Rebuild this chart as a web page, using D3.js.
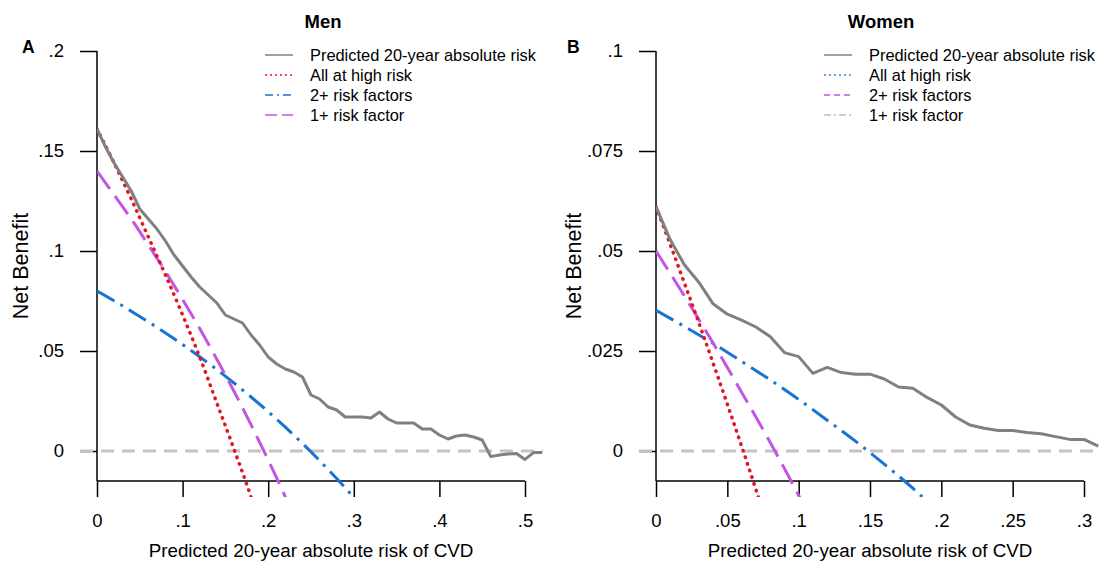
<!DOCTYPE html>
<html><head><meta charset="utf-8">
<script src="https://cdn.jsdelivr.net/npm/d3@7"></script>
<style>body{margin:0;background:#fff;} svg{display:block;font-family:Arial,"Liberation Sans",sans-serif;}</style>
</head><body><svg width="1100" height="562"></svg>
<script>
// ---------- DATA ----------
const menPredicted = [[0,0.161],[0.01,0.152],[0.02,0.144],[0.03,0.137],[0.04,0.130],[0.05,0.121],[0.06,0.116],[0.07,0.111],[0.08,0.105],[0.09,0.098],[0.10,0.0925],[0.11,0.087],[0.12,0.082],[0.13,0.078],[0.14,0.074],[0.15,0.068],[0.16,0.066],[0.17,0.064],[0.18,0.058],[0.19,0.053],[0.20,0.047],[0.21,0.0435],[0.22,0.041],[0.23,0.0395],[0.24,0.037],[0.25,0.028],[0.26,0.026],[0.27,0.022],[0.28,0.0205],[0.29,0.017],[0.30,0.017],[0.31,0.017],[0.32,0.0165],[0.33,0.0195],[0.34,0.016],[0.35,0.014],[0.36,0.014],[0.37,0.014],[0.38,0.011],[0.39,0.011],[0.40,0.008],[0.41,0.006],[0.42,0.0075],[0.43,0.008],[0.44,0.007],[0.45,0.0055],[0.46,-0.0028],[0.47,-0.002],[0.48,-0.0015],[0.49,-0.0012],[0.50,-0.0042],[0.51,-0.0008],[0.52,-0.0008]];
const menAllHigh = [[0,0.161],[0.02,0.144],[0.04,0.126],[0.06,0.107],[0.08,0.088],[0.10,0.068],[0.12,0.047],[0.14,0.024],[0.16,0.001],[0.18,-0.023],[0.19,-0.036]];
const menTwoPlus = [[0,0.080],[0.02,0.0751],[0.04,0.0699],[0.06,0.0646],[0.08,0.0590],[0.10,0.0532],[0.12,0.0471],[0.14,0.0407],[0.16,0.0340],[0.18,0.0270],[0.20,0.0197],[0.22,0.0119],[0.24,0.0038],[0.26,-0.0048],[0.28,-0.0138],[0.30,-0.0234],[0.31,-0.029]];
const menOnePlus = [[0,0.140],[0.02,0.128],[0.04,0.116],[0.06,0.103],[0.08,0.0897],[0.10,0.0758],[0.12,0.0612],[0.14,0.0459],[0.16,0.0299],[0.18,0.0131],[0.20,-0.0045],[0.22,-0.023],[0.23,-0.033]];

const womenPredicted = [[0,0.0611],[0.01,0.0528],[0.02,0.0465],[0.03,0.0422],[0.04,0.0368],[0.05,0.0342],[0.06,0.0327],[0.07,0.0310],[0.08,0.0286],[0.09,0.0246],[0.10,0.0236],[0.11,0.0194],[0.12,0.0209],[0.13,0.0196],[0.14,0.0192],[0.15,0.0192],[0.16,0.0180],[0.17,0.0160],[0.18,0.0157],[0.19,0.0134],[0.20,0.0115],[0.21,0.0085],[0.22,0.0065],[0.23,0.0057],[0.24,0.0051],[0.25,0.0051],[0.26,0.0046],[0.27,0.0043],[0.28,0.0036],[0.29,0.0029],[0.30,0.0029],[0.31,0.0012]];
const womenAllHigh = [[0,0.0611],[0.01,0.0516],[0.02,0.0419],[0.03,0.0321],[0.04,0.0220],[0.05,0.0117],[0.06,0.0012],[0.07,-0.0096],[0.08,-0.021]];
const womenOnePlus = [[0,0.050],[0.02,0.0387],[0.04,0.0270],[0.06,0.0147],[0.08,0.0022],[0.10,-0.0111],[0.11,-0.018]];
const womenTwoPlus = [[0,0.0352],[0.02,0.0311],[0.04,0.0269],[0.06,0.0224],[0.08,0.0178],[0.10,0.0129],[0.12,0.0077],[0.14,0.0024],[0.16,-0.0033],[0.18,-0.0093],[0.20,-0.016]];

const menXTicks = [0,0.1,0.2,0.3,0.4,0.5];
const menXLabels = ["0",".1",".2",".3",".4",".5"];
const menYTicks = [0,0.05,0.1,0.15,0.2];
const menYLabels = ["0",".05",".1",".15",".2"];
const womenXTicks = [0,0.05,0.1,0.15,0.2,0.25,0.3];
const womenXLabels = ["0",".05",".1",".15",".2",".25",".3"];
const womenYTicks = [0,0.025,0.05,0.075,0.1];
const womenYLabels = ["0",".025",".05",".075",".1"];

const legendLabels = ["Predicted 20-year absolute risk","All at high risk","2+ risk factors","1+ risk factor"];

// ---------- DRAWING ----------
const svg = d3.select("svg");
const GRAY = "#808080", RED = "#e3161f", BLUE = "#1874d2", PURPLE = "#c255e2";
const FONT = "Arial, 'Liberation Sans', sans-serif";

function panel(c) {
  const x = d3.scaleLinear().domain([0, c.xMax]).range([c.x0, c.x1]);
  const y = d3.scaleLinear().domain([0, c.yMax]).range([451, 51]);
  const g = svg.append("g");
  const axisY = 481;

  // title & letter
  g.append("text").attr("x", (c.x0 + c.plotRight) / 2 + 3).attr("y", 28).attr("text-anchor", "middle")
    .attr("font-weight", "bold").attr("font-size", 18.5).text(c.title);
  g.append("text").attr("x", c.letterX).attr("y", 53).attr("font-weight", "bold").attr("font-size", 17.5).text(c.letter);

  // y axis
  const ya = g.append("g").attr("transform", `translate(${c.x0},0)`)
    .call(d3.axisLeft(y).tickValues(c.yTicks).tickFormat((d, i) => c.yLabels[i]).tickSize(17).tickPadding(16).tickSizeOuter(0));
  ya.select(".domain").remove();
  ya.selectAll("line").attr("stroke", "#000").attr("stroke-width", 1.5);
  ya.selectAll("text").attr("font-size", 18.5).attr("font-family", FONT).attr("fill", "#000");
  g.append("line").attr("x1", c.x0).attr("x2", c.x0).attr("y1", y(c.yMax)).attr("y2", axisY).attr("stroke", "#000").attr("stroke-width", 1.5);

  // x axis
  const xa = g.append("g").attr("transform", `translate(0,${axisY})`)
    .call(d3.axisBottom(x).tickValues(c.xTicks).tickFormat((d, i) => c.xLabels[i]).tickSize(16).tickPadding(17).tickSizeOuter(0));
  xa.select(".domain").remove();
  xa.selectAll("line").attr("stroke", "#000").attr("stroke-width", 1.5);
  xa.selectAll("text").attr("font-size", 18.5).attr("font-family", FONT).attr("fill", "#000");
  g.append("line").attr("x1", c.x0).attr("x2", c.x1).attr("y1", axisY).attr("y2", axisY).attr("stroke", "#000").attr("stroke-width", 1.5);

  // axis titles
  g.append("text").attr("x", (c.x0 + c.x1) / 2).attr("y", 557).attr("text-anchor", "middle").attr("font-size", 18.8)
    .text("Predicted 20-year absolute risk of CVD");
  g.append("text").attr("transform", `translate(${c.yTitleX},266) rotate(-90)`).attr("text-anchor", "middle")
    .attr("font-size", 21.5).text("Net Benefit");

  // clip
  const cid = "clip" + c.letter;
  svg.append("clipPath").attr("id", cid).append("rect")
    .attr("x", c.x0).attr("y", 40).attr("width", c.plotRight - c.x0).attr("height", 497 - 40);

  // zero reference line
  g.append("line").attr("x1", c.x0 - 17).attr("x2", c.plotRight).attr("y1", y(0)).attr("y2", y(0))
    .attr("stroke", "#c4c4c4").attr("stroke-width", 3).attr("stroke-dasharray", "13 8");

  const line = d3.line().x(d => x(d[0])).y(d => y(d[1]));
  const smooth = d3.line().x(d => x(d[0])).y(d => y(d[1])).curve(d3.curveMonotoneX);
  const pg = g.append("g").attr("clip-path", `url(#${cid})`);
  c.series.forEach(s => {
    pg.append("path").attr("d", (s.smooth ? smooth : line)(s.data)).attr("fill", "none")
      .attr("stroke", s.color).attr("stroke-width", s.width).attr("stroke-dasharray", s.dash || null)
      .attr("stroke-linecap", s.cap || "butt").attr("stroke-linejoin", "round");
  });

  // legend
  c.legend.forEach((l, i) => {
    const ly = 55 + i * 20;
    g.append("line").attr("x1", c.legX).attr("x2", c.legX + 28).attr("y1", ly).attr("y2", ly)
      .attr("stroke", l.color).attr("stroke-width", l.width).attr("stroke-dasharray", l.dash || null)
      .attr("stroke-linecap", l.cap || "butt");
    g.append("text").attr("x", c.legX + 45).attr("y", ly + 6).attr("font-size", 16.4).text(legendLabels[i]);
  });
}

panel({
  title: "Men", letter: "A", letterX: 22, yTitleX: 28,
  x0: 97, x1: 525, plotRight: 543, xMax: 0.5, yMax: 0.2,
  xTicks: menXTicks, xLabels: menXLabels, yTicks: menYTicks, yLabels: menYLabels,
  legX: 265,
  series: [
    {data: menTwoPlus, color: BLUE, width: 3, dash: "20 7 3 7", smooth: true},
    {data: menOnePlus, color: PURPLE, width: 3, dash: "22 9", smooth: true},
    {data: menAllHigh, color: RED, width: 3.5, dash: "0.5 6.5", cap: "round", smooth: true},
    {data: menPredicted, color: GRAY, width: 3}
  ],
  legend: [
    {color: GRAY, width: 1.5},
    {color: RED, width: 1.5, dash: "2 3"},
    {color: BLUE, width: 1.5, dash: "8 4 2 4"},
    {color: PURPLE, width: 1.5, dash: "12 5"}
  ]
});

panel({
  title: "Women", letter: "B", letterX: 567, yTitleX: 581,
  x0: 656, x1: 1084, plotRight: 1100, xMax: 0.3, yMax: 0.1,
  xTicks: womenXTicks, xLabels: womenXLabels, yTicks: womenYTicks, yLabels: womenYLabels,
  legX: 824,
  series: [
    {data: womenTwoPlus, color: BLUE, width: 3, dash: "20 7 3 7", smooth: true},
    {data: womenOnePlus, color: PURPLE, width: 3, dash: "22 9", smooth: true},
    {data: womenAllHigh, color: RED, width: 3.5, dash: "0.5 6.5", cap: "round", smooth: true},
    {data: womenPredicted, color: GRAY, width: 3}
  ],
  legend: [
    {color: GRAY, width: 1.5},
    {color: "#3a86d6", width: 1.5, dash: "2 3"},
    {color: PURPLE, width: 1.5, dash: "6 4"},
    {color: "#9a9a9a", width: 1, dash: "7 3 2 3"}
  ]
});
</script></body></html>
